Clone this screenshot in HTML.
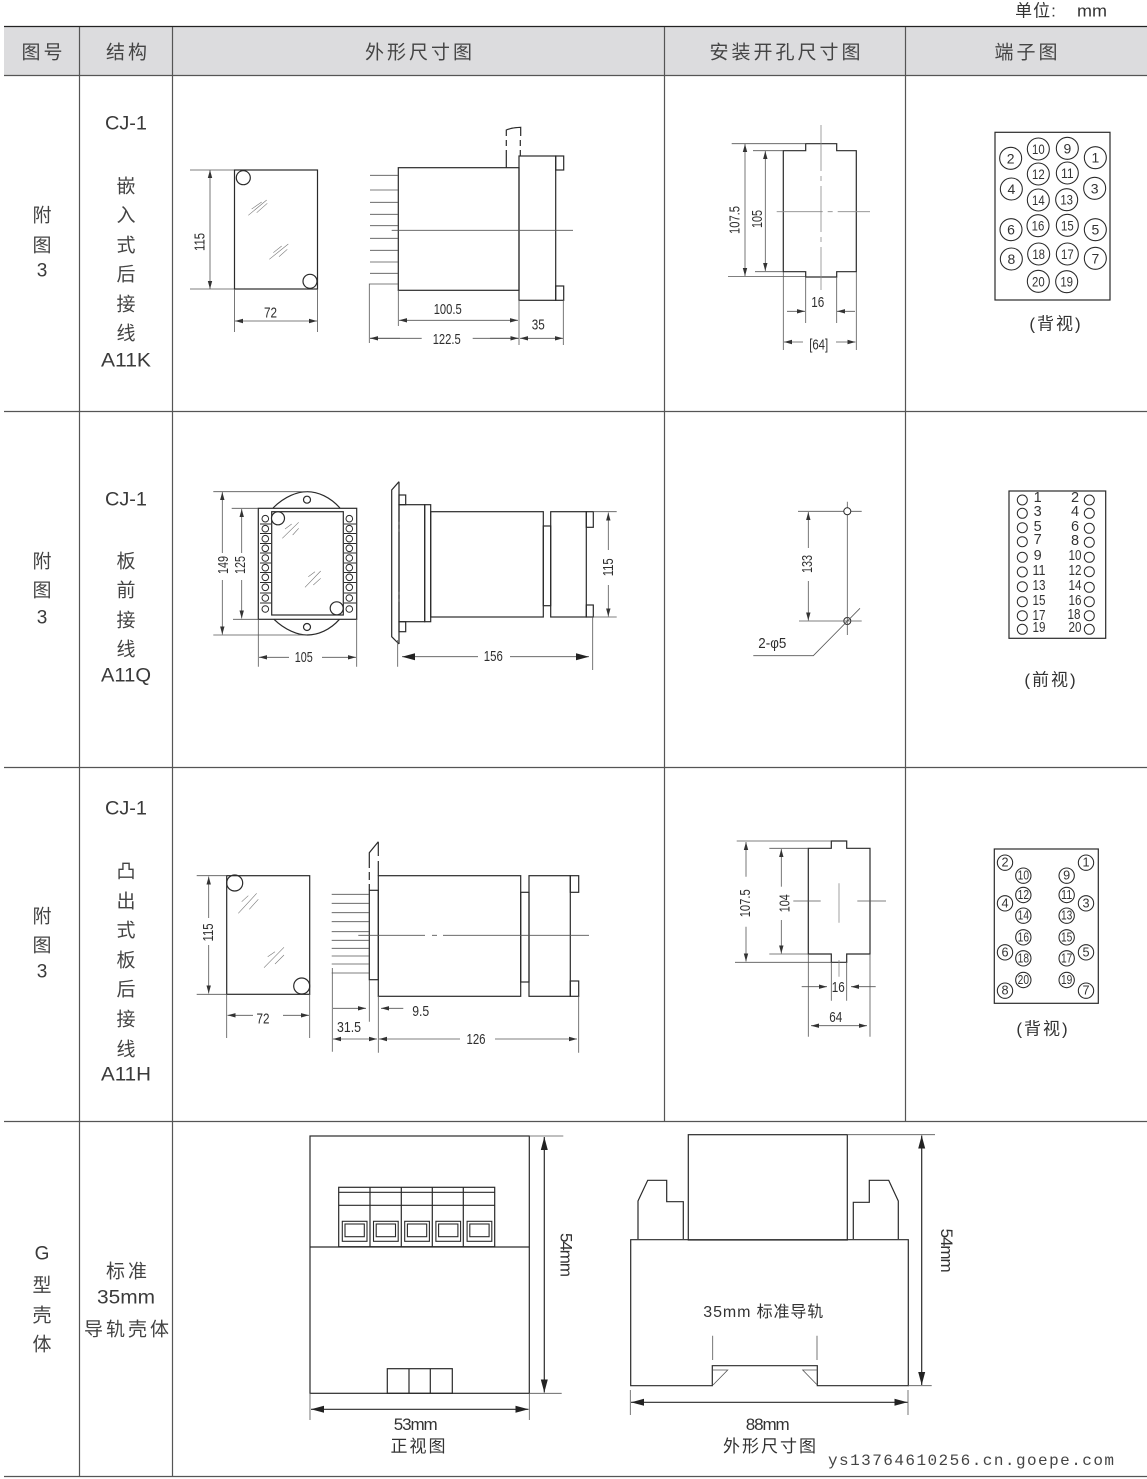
<!DOCTYPE html>
<html><head><meta charset="utf-8">
<style>
html,body{margin:0;padding:0;background:#fff}
svg{display:block}
.s{fill:none;stroke:#2a2a2a;stroke-width:1.2}
.d{fill:none;stroke:#555;stroke-width:.8}
.h{fill:none;stroke:#777;stroke-width:.6}
.c{fill:none;stroke:#8a8a8a;stroke-width:.8}
.a{marker-start:url(#m);marker-end:url(#m)}
.e{marker-end:url(#m)}
.A{marker-start:url(#M);marker-end:url(#M)}
text{dominant-baseline:central;text-anchor:middle}
.n{font:15px "Liberation Sans",sans-serif;fill:#2e2e2e}
.t{font:19px "Liberation Sans","Noto Sans CJK SC",sans-serif;fill:#3a3a3a}
.k{font:19px "Noto Sans CJK SC",sans-serif;font-weight:400;fill:#444}
.g{font:17px "Liberation Sans","Noto Sans CJK SC",sans-serif;fill:#333}
.tb{fill:none;stroke:#555;stroke-width:1.2}
</style></head><body>
<svg xmlns="http://www.w3.org/2000/svg" width="1147" height="1479" viewBox="0 0 1147 1479">
<defs>
<marker id="m" markerUnits="userSpaceOnUse" markerWidth="9" markerHeight="6" refX="8" refY="3" orient="auto-start-reverse"><path d="M0 .8L8 3L0 5.2z" fill="#333"/></marker>
<marker id="M" markerUnits="userSpaceOnUse" markerWidth="14" markerHeight="10" refX="13" refY="5" orient="auto-start-reverse"><path d="M0 1.5L13 5L0 8.5z" fill="#222"/></marker>
</defs>
<rect width="1147" height="1479" fill="#fff"/>

<!-- table -->
<rect x="4" y="27" width="1143" height="48" fill="#dcdcde"/>
<path d="M4 26.5H1147" stroke="#222" stroke-width="1.2" fill="none"/>
<path class="tb" d="M4 75.5H1147M4 411.5H1147M4 767.5H1147M4 1121.5H1147M4 1476.5H1147"/>
<path class="tb" d="M79.5 27V1476M172.5 27V1476M664.5 27V1121M905.5 27V1121"/>
<text class="g" x="1036" y="11" letter-spacing="1">单位:</text>
<text class="g" x="1092" y="11" textLength="30" lengthAdjust="spacingAndGlyphs">mm</text>
<text class="k" x="43.5" y="51" letter-spacing="3">图号</text>
<text class="k" x="128" y="51" letter-spacing="3">结构</text>
<text class="k" x="420" y="51" letter-spacing="3">外形尺寸图</text>
<text class="k" x="786.5" y="51" letter-spacing="3">安装开孔尺寸图</text>
<text class="k" x="1027.5" y="51" letter-spacing="3">端子图</text>

<!-- column text row 1 -->
<text class="k" x="42" y="214">附</text><text class="k" x="42" y="244">图</text><text class="t" x="42" y="271">3</text>
<text class="t" x="126" y="124" textLength="42" lengthAdjust="spacingAndGlyphs">CJ-1</text>
<text class="k" x="126" y="185">嵌</text><text class="k" x="126" y="214">入</text><text class="k" x="126" y="244">式</text><text class="k" x="126" y="273">后</text><text class="k" x="126" y="303">接</text><text class="k" x="126" y="332">线</text>
<text class="t" x="126" y="361" textLength="50" lengthAdjust="spacingAndGlyphs">A11K</text>
<!-- row 2 -->
<text class="k" x="42" y="560">附</text><text class="k" x="42" y="589">图</text><text class="t" x="42" y="618">3</text>
<text class="t" x="126" y="500" textLength="42" lengthAdjust="spacingAndGlyphs">CJ-1</text>
<text class="k" x="126" y="560">板</text><text class="k" x="126" y="589">前</text><text class="k" x="126" y="619">接</text><text class="k" x="126" y="648">线</text>
<text class="t" x="126" y="676" textLength="50" lengthAdjust="spacingAndGlyphs">A11Q</text>
<!-- row 3 -->
<text class="k" x="42" y="915">附</text><text class="k" x="42" y="944">图</text><text class="t" x="42" y="972">3</text>
<text class="t" x="126" y="809" textLength="42" lengthAdjust="spacingAndGlyphs">CJ-1</text>
<text class="k" x="126" y="870">凸</text><text class="k" x="126" y="900">出</text><text class="k" x="126" y="929">式</text><text class="k" x="126" y="959">板</text><text class="k" x="126" y="988">后</text><text class="k" x="126" y="1018">接</text><text class="k" x="126" y="1048">线</text>
<text class="t" x="126" y="1075" textLength="50" lengthAdjust="spacingAndGlyphs">A11H</text>
<!-- row 4 -->
<text class="t" x="42" y="1254">G</text><text class="k" x="42" y="1284">型</text><text class="k" x="42" y="1314">壳</text><text class="k" x="42" y="1343">体</text>
<text class="k" x="128" y="1270" letter-spacing="3">标准</text>
<text class="t" x="126" y="1298" textLength="58" lengthAdjust="spacingAndGlyphs">35mm</text>
<text class="k" x="128" y="1328" letter-spacing="3">导轨壳体</text>

<!-- D1 front -->
<rect class="s" x="234.5" y="170" width="83" height="119"/>
<circle class="s" cx="243.3" cy="177.7" r="7"/><circle class="s" cx="310" cy="281.3" r="7"/>
<path class="h" d="M248.3 215.3L266.7 200M251.7 209L261.7 202M256.7 212.7L267.3 203.3M269.3 259.3L288.3 244M273.3 252.7L281.7 246M279 256.7L287.3 249.3"/>
<path class="d" d="M190 170H234M190 289H234M234.5 289V332M317.5 289V332"/>
<path class="d a" d="M210 170V289"/><path class="d a" d="M235 321H317"/>
<rect x="194" y="232" width="12" height="20" fill="#fff"/>
<text class="n" x="200" y="242" textLength="18" lengthAdjust="spacingAndGlyphs" transform="rotate(-90 200 242)">115</text>
<text class="n" x="270.5" y="313" textLength="13" lengthAdjust="spacingAndGlyphs">72</text>
<!-- D1 side -->
<rect class="s" x="398.3" y="167.7" width="120.7" height="122.6"/>
<rect class="s" x="519" y="156" width="36.7" height="144.3"/>
<rect class="s" x="555.7" y="156" width="8" height="14"/><rect class="s" x="555.7" y="286" width="8" height="14.3"/>
<path class="d" d="M370 175.3H398M370 190H398M370 202.3H398M370 214.3H398M370 225.7H398M370 238.3H398M370 250.3H398M370 262H398M370 273.3H398M398 284H369.3V343M391.7 230.3H573"/>
<path class="s" d="M506.3 167.7V150M506.3 146V140M506.3 136V130Q512 127.5 520.7 127.3V136M520.3 140V146M520.3 150V156" stroke-width="1"/>
<path class="d" d="M398.3 290V326M519 300V345M563.3 300V345"/>
<path class="d a" d="M399 320.3H518"/>
<path class="d" d="M370 338.3H421.7M472.7 338.3H518"/>
<path class="d e" d="M400 338.3H370"/><path class="d e" d="M490 338.3H518.5"/>
<path class="d a" d="M520 338.3H563"/>
<text class="n" x="447.7" y="309.3" textLength="28" lengthAdjust="spacingAndGlyphs">100.5</text>
<text class="n" x="446.7" y="339.3" textLength="28" lengthAdjust="spacingAndGlyphs">122.5</text>
<text class="n" x="538.3" y="325" textLength="13" lengthAdjust="spacingAndGlyphs">35</text>

<!-- M1 -->
<path class="s" d="M783.3 150.7H805.7V143.7H836.7V150.7H856.3V271.7H836.7V277H805.7V271.7H783.3Z"/>
<path class="c" stroke-dasharray="46 5 5 5" d="M821 125V290M776.7 211.7H870"/>
<path class="d" d="M731.7 143.7H805M728 276.5H805M753 150.7H783M755 271.7H783M805.7 277V323M836.7 277V323M783.3 272V350M856.3 272V350"/>
<path class="d a" d="M745 144V276"/><path class="d a" d="M765.3 151V271"/>
<path class="d e" d="M787 311.3H805"/><path class="d e" d="M855 311.3H837"/>
<path class="d e" d="M803 342H784"/><path class="d e" d="M836 342H855.5"/>
<rect x="728" y="200" width="14" height="40" fill="#fff"/>
<rect x="751" y="205" width="12" height="28" fill="#fff"/>
<text class="n" x="735" y="220" textLength="28" lengthAdjust="spacingAndGlyphs" transform="rotate(-90 735 220)">107.5</text>
<text class="n" x="757.3" y="219" textLength="18" lengthAdjust="spacingAndGlyphs" transform="rotate(-90 757.3 219)">105</text>
<text class="n" x="817.7" y="302.3" textLength="13" lengthAdjust="spacingAndGlyphs">16</text>
<text class="n" x="818.7" y="345" textLength="19" lengthAdjust="spacingAndGlyphs">[64]</text>

<!-- T1 -->
<rect class="s" x="995" y="132.3" width="115" height="167.7"/>
<g transform="translate(985 125) scale(.33333)">
<g fill="none" stroke="#2a2a2a" stroke-width="3.2">
<circle cx="160" cy="72" r="33"/><circle cx="247" cy="70" r="33"/><circle cx="77" cy="100" r="33"/><circle cx="331" cy="98" r="33"/><circle cx="160" cy="147" r="33"/><circle cx="247" cy="144" r="33"/><circle cx="79" cy="192" r="33"/><circle cx="329" cy="190" r="33"/><circle cx="160" cy="225" r="33"/><circle cx="245" cy="224" r="33"/><circle cx="159" cy="302" r="33"/><circle cx="247" cy="301" r="33"/><circle cx="78" cy="314" r="33"/><circle cx="331" cy="314" r="33"/><circle cx="161" cy="387" r="33"/><circle cx="247" cy="387" r="33"/><circle cx="79" cy="402" r="33"/><circle cx="331" cy="400" r="33"/><circle cx="160" cy="469" r="33"/><circle cx="245" cy="470" r="33"/>
</g>
<g style="font:42px 'Liberation Sans',sans-serif" fill="#333">
<text x="160" y="72" textLength="38" lengthAdjust="spacingAndGlyphs">10</text><text x="247" y="70">9</text><text x="77" y="100">2</text><text x="331" y="98">1</text><text x="160" y="147" textLength="38" lengthAdjust="spacingAndGlyphs">12</text><text x="247" y="144" textLength="38" lengthAdjust="spacingAndGlyphs">11</text><text x="79" y="192">4</text><text x="329" y="190">3</text><text x="160" y="225" textLength="38" lengthAdjust="spacingAndGlyphs">14</text><text x="245" y="224" textLength="38" lengthAdjust="spacingAndGlyphs">13</text><text x="159" y="302" textLength="38" lengthAdjust="spacingAndGlyphs">16</text><text x="247" y="301" textLength="38" lengthAdjust="spacingAndGlyphs">15</text><text x="78" y="314">6</text><text x="331" y="314">5</text><text x="161" y="387" textLength="38" lengthAdjust="spacingAndGlyphs">18</text><text x="247" y="387" textLength="38" lengthAdjust="spacingAndGlyphs">17</text><text x="79" y="402">8</text><text x="331" y="400">7</text><text x="160" y="469" textLength="38" lengthAdjust="spacingAndGlyphs">20</text><text x="245" y="470" textLength="38" lengthAdjust="spacingAndGlyphs">19</text>
</g></g>
<text class="g" x="1056" y="324" letter-spacing="2">(背视)</text>

<!-- D2 front -->
<rect class="s" x="258.3" y="508.3" width="98.4" height="111"/>
<rect class="s" x="271.7" y="511.7" width="71.6" height="103.3"/>
<path class="s" d="M273 508C285 496 298 491.7 307 491.7C318 491.7 330 497 340 508M274 619.3C285 630 298 635 307 635C318 635 330 630 339.5 619.3"/>
<circle class="s" cx="307" cy="499.7" r="3.5"/><circle class="s" cx="307" cy="627" r="3.5"/>
<g fill="none" stroke="#2a2a2a" stroke-width="1">
<circle cx="265.3" cy="518.7" r="3.3"/><circle cx="265.3" cy="528.7" r="3.3"/><circle cx="265.3" cy="538.7" r="3.3"/><circle cx="265.3" cy="548.3" r="3.3"/><circle cx="265.3" cy="558" r="3.3"/><circle cx="265.3" cy="567.7" r="3.3"/><circle cx="265.3" cy="577.3" r="3.3"/><circle cx="265.3" cy="587.3" r="3.3"/><circle cx="265.3" cy="598" r="3.3"/><circle cx="265.3" cy="609" r="3.3"/>
<circle cx="349.3" cy="518.7" r="3.3"/><circle cx="349.3" cy="528.7" r="3.3"/><circle cx="349.3" cy="538.7" r="3.3"/><circle cx="349.3" cy="548.3" r="3.3"/><circle cx="349.3" cy="558" r="3.3"/><circle cx="349.3" cy="567.7" r="3.3"/><circle cx="349.3" cy="577.3" r="3.3"/><circle cx="349.3" cy="587.3" r="3.3"/><circle cx="349.3" cy="598" r="3.3"/><circle cx="349.3" cy="609" r="3.3"/>
<path d="M260 524H271M260 533.5H271M260 543.5H271M260 553H271M260 563H271M260 572.5H271M260 582.5H271M260 593H271M260 603H271M344 524H356M344 533.5H356M344 543.5H356M344 553H356M344 563H356M344 572.5H356M344 582.5H356M344 593H356M344 603H356"/>
</g>
<circle class="s" cx="278" cy="518.3" r="6.5" style="fill:#fff"/><circle class="s" cx="336.7" cy="608.3" r="6.5" style="fill:#fff"/>
<path class="h" d="M282.3 538.3L298.7 522.3M285 529L291.7 524M292.7 535L298.7 528.3M305 587.3L320.7 571M308.3 576.7L315 571.7M313.3 585L320.7 578.3"/>
<path class="d" d="M213.3 491.7H307M213.3 635H307M231.7 508.3H258M233 619.3H258M258.3 619V666.7M356.7 619V666.7"/>
<path class="d e" d="M222.3 553V492"/><path class="d e" d="M222.3 580V634.5"/>
<path class="d e" d="M241.7 553V509"/><path class="d e" d="M241.7 580V618.5"/>
<path class="d e" d="M289 657.3H259"/><path class="d e" d="M322 657.3H356"/>
<text class="n" x="223.3" y="565" textLength="18" lengthAdjust="spacingAndGlyphs" transform="rotate(-90 223.3 565)">149</text>
<text class="n" x="240.7" y="565" textLength="18" lengthAdjust="spacingAndGlyphs" transform="rotate(-90 240.7 565)">125</text>
<text class="n" x="303.7" y="657.3" textLength="18" lengthAdjust="spacingAndGlyphs">105</text>
<!-- D2 side -->
<path class="s" d="M399 481.7L391.7 490V636.7L399 644"/>
<path class="s" stroke-dasharray="40 3 4 3 60 3 4 3 200" d="M399 481.7V644"/>
<rect class="s" x="399" y="504.7" width="25.7" height="117"/>
<rect class="s" x="424.7" y="504.7" width="6" height="117"/>
<rect class="s" x="399" y="495" width="6.7" height="9.7"/><rect class="s" x="399" y="621.7" width="6.7" height="10"/>
<rect class="s" x="430.7" y="511.7" width="112.6" height="105.3"/>
<rect class="s" x="543.3" y="526" width="7.4" height="79.7"/>
<rect class="s" x="550.7" y="511.7" width="35.6" height="105.3"/>
<rect class="s" x="586.3" y="511.7" width="7" height="15.6"/><rect class="s" x="586.3" y="605" width="7" height="12"/>
<path class="d" d="M593 511.7H616.7M593 617H616.7M397.7 640V666.7M592.7 617V670"/>
<path class="d e" d="M608.3 550V512.5"/><path class="d e" d="M608.3 585V616.5"/>
<path class="d A" d="M402 656.7H478" style="marker-end:none"/><path class="d A" d="M510 656.7H589" style="marker-start:none"/>
<text class="n" x="608.3" y="567.3" textLength="18" lengthAdjust="spacingAndGlyphs" transform="rotate(-90 608.3 567.3)">115</text>
<text class="n" x="493.3" y="656.7" textLength="19" lengthAdjust="spacingAndGlyphs">156</text>

<!-- M2 -->
<path class="d" d="M847.3 501.7V635M798 511.3H861.7M799 621H861.7"/>
<circle cx="847.3" cy="511.3" r="3.5" fill="#fff" stroke="#2a2a2a"/>
<circle cx="847.3" cy="621" r="3.5" fill="#fff" stroke="#2a2a2a"/>
<path class="d" d="M843.5 621H851M847.3 617V625M753.3 655.7H813.3L860 608.3"/>
<path class="d e" d="M808.3 548V512"/><path class="d e" d="M808.3 581V620.5"/>
<text class="n" x="807.5" y="564" textLength="18" lengthAdjust="spacingAndGlyphs" transform="rotate(-90 807.5 564)">133</text>
<text class="n" x="772.3" y="643.3" textLength="28" lengthAdjust="spacingAndGlyphs">2-φ5</text>

<!-- T2 -->
<rect class="s" x="1009" y="491" width="96.7" height="147.3"/>
<g fill="none" stroke="#2a2a2a" stroke-width="1">
<circle cx="1022.3" cy="500" r="5"/><circle cx="1022.3" cy="513.3" r="5"/><circle cx="1022.3" cy="527.7" r="5"/><circle cx="1022.3" cy="541.7" r="5"/><circle cx="1022.3" cy="557.3" r="5"/><circle cx="1022.3" cy="572" r="5"/><circle cx="1022.3" cy="586.7" r="5"/><circle cx="1022.3" cy="601.7" r="5"/><circle cx="1022.3" cy="615.7" r="5"/><circle cx="1022.3" cy="629.3" r="5"/>
<circle cx="1089.3" cy="500" r="5"/><circle cx="1089.3" cy="513.3" r="5"/><circle cx="1089.3" cy="528.3" r="5"/><circle cx="1089.3" cy="542.3" r="5"/><circle cx="1089.3" cy="557.3" r="5"/><circle cx="1089.3" cy="571.7" r="5"/><circle cx="1089.3" cy="587.3" r="5"/><circle cx="1089.3" cy="601.7" r="5"/><circle cx="1089.3" cy="615.7" r="5"/><circle cx="1089.3" cy="629.3" r="5"/>
</g>
<g style="font:14.5px 'Liberation Sans',sans-serif" fill="#333">
<text x="1037.7" y="498">1</text><text x="1037.7" y="512">3</text><text x="1037.7" y="527">5</text><text x="1037.7" y="540">7</text><text x="1037.7" y="556">9</text><text x="1039" y="571" textLength="13" lengthAdjust="spacingAndGlyphs">11</text><text x="1039" y="586" textLength="13" lengthAdjust="spacingAndGlyphs">13</text><text x="1039" y="601" textLength="13" lengthAdjust="spacingAndGlyphs">15</text><text x="1039" y="616" textLength="13" lengthAdjust="spacingAndGlyphs">17</text><text x="1039" y="628" textLength="13" lengthAdjust="spacingAndGlyphs">19</text>
<text x="1075" y="498">2</text><text x="1075" y="512">4</text><text x="1075" y="527">6</text><text x="1075" y="541">8</text><text x="1075" y="556" textLength="13" lengthAdjust="spacingAndGlyphs">10</text><text x="1075" y="571" textLength="13" lengthAdjust="spacingAndGlyphs">12</text><text x="1075" y="586" textLength="13" lengthAdjust="spacingAndGlyphs">14</text><text x="1075" y="601" textLength="13" lengthAdjust="spacingAndGlyphs">16</text><text x="1074" y="615" textLength="13" lengthAdjust="spacingAndGlyphs">18</text><text x="1075" y="628" textLength="13" lengthAdjust="spacingAndGlyphs">20</text>
</g>
<text class="g" x="1051" y="680" letter-spacing="2">(前视)</text>

<!-- D3 front -->
<rect class="s" x="226.7" y="875.7" width="83" height="118.6"/>
<circle class="s" cx="234.7" cy="883" r="8"/><circle class="s" cx="301.7" cy="986" r="8"/>
<path class="h" d="M238.3 913.3L256.7 893.3M241.7 901.7L248.3 895.7M249.3 909.3L258.3 899.3M264 967.7L284 947.3M267.7 956.7L275 951.7M275 964L284 955"/>
<path class="d" d="M196.7 875.7H226M196.7 994.3H226M226.7 994V1038M309.7 994V1038"/>
<path class="d e" d="M208.7 918V876.5"/><path class="d e" d="M208.7 945V993.5"/>
<path class="d e" d="M253 1015.3H227.5"/><path class="d e" d="M283 1015.3H309"/>
<text class="n" x="208.5" y="932.5" textLength="18" lengthAdjust="spacingAndGlyphs" transform="rotate(-90 208.5 932.5)">115</text>
<text class="n" x="263" y="1019" textLength="13" lengthAdjust="spacingAndGlyphs">72</text>
<!-- D3 side -->
<path class="s" d="M378.3 841.7L369.3 852.7V868M369.3 872V880M369.3 884V890M378.3 841.7V856M378.3 861V875.7" stroke-width="1.1"/>
<rect class="s" x="369.3" y="890.3" width="9" height="89.4"/>
<rect class="s" x="378.3" y="875.7" width="142.4" height="120.6"/>
<rect class="s" x="520.7" y="892.3" width="8.3" height="89.7"/>
<rect class="s" x="529" y="875.7" width="41.3" height="120.6"/>
<rect class="s" x="570.3" y="875.7" width="8.4" height="16.6"/><rect class="s" x="570.3" y="981" width="8.4" height="15.3"/>
<path class="d" d="M331.7 894.3H369M331.7 903.3H369M331.7 912.7H369M331.7 921.7H369M331.7 931.7H369M331.7 940.3H369M331.7 948.3H369M331.7 956H369M331.7 964H369M331.7 973H369"/>
<path class="d" d="M358.3 935.3H425M432 935.3H437M443 935.3H589"/>
<path class="d" d="M332.3 968V1051.7M369.3 980V1021.7M378.3 996V1052.7M578.7 996V1052.7"/>
<path class="d e" d="M333 1008.3H366"/><path class="d e" d="M403.3 1008.3H381"/>
<path class="d a" d="M333 1039H377"/>
<path class="d e" d="M460 1039H379"/><path class="d e" d="M495 1039H577"/>
<text class="n" x="420.7" y="1011.7" textLength="17" lengthAdjust="spacingAndGlyphs">9.5</text>
<text class="n" x="349" y="1027.3" textLength="24" lengthAdjust="spacingAndGlyphs">31.5</text>
<text class="n" x="476" y="1039.3" textLength="19" lengthAdjust="spacingAndGlyphs">126</text>

<!-- M3 -->
<path class="s" d="M808.3 848.3H831.3V841H846.7V848.3H870V954H846.7V962.3H831.3V954H808.3Z"/>
<path class="d" d="M736.7 841H831M735 962.3H831M769.3 848.3H808M769.3 954H808M793.3 901H820.7M857.3 901H886M831.3 962V1000.7M846.7 962V1000.7M808.3 954V1036.7M870 954V1036.7"/>
<path class="c" d="M839 883.3V922.7M839 960V976.7"/>
<path class="d e" d="M746 876.7V842"/><path class="d e" d="M746 926.7V961.5"/>
<path class="d e" d="M781.3 886.7V849"/><path class="d e" d="M781.3 920V953.5"/>
<path class="d e" d="M801.7 986.7H827"/><path class="d e" d="M875.7 986.7H851"/>
<path class="d a" d="M811 1025.7H867"/>
<text class="n" x="745.7" y="903.3" textLength="28" lengthAdjust="spacingAndGlyphs" transform="rotate(-90 745.7 903.3)">107.5</text>
<text class="n" x="785" y="903.3" textLength="18" lengthAdjust="spacingAndGlyphs" transform="rotate(-90 785 903.3)">104</text>
<text class="n" x="838.3" y="987.7" textLength="13" lengthAdjust="spacingAndGlyphs">16</text>
<text class="n" x="835.7" y="1017.3" textLength="13" lengthAdjust="spacingAndGlyphs">64</text>

<!-- T3 -->
<rect class="s" x="994.3" y="849" width="104" height="154.3"/>
<g transform="translate(985 845) scale(.33333)">
<g fill="none" stroke="#2a2a2a" stroke-width="3.2">
<circle cx="60" cy="53" r="23"/><circle cx="303" cy="53" r="23"/><circle cx="115" cy="92" r="23"/><circle cx="245" cy="92" r="23"/><circle cx="115" cy="150" r="23"/><circle cx="245" cy="150" r="23"/><circle cx="60" cy="175" r="23"/><circle cx="303" cy="175" r="23"/><circle cx="115" cy="212" r="23"/><circle cx="245" cy="212" r="23"/><circle cx="115" cy="277" r="23"/><circle cx="245" cy="277" r="23"/><circle cx="60" cy="322" r="23"/><circle cx="303" cy="322" r="23"/><circle cx="115" cy="340" r="23"/><circle cx="245" cy="340" r="23"/><circle cx="115" cy="405" r="23"/><circle cx="245" cy="405" r="23"/><circle cx="60" cy="437" r="23"/><circle cx="303" cy="437" r="23"/>
</g>
<g style="font:38px 'Liberation Sans',sans-serif" fill="#333">
<text x="60" y="53">2</text><text x="303" y="53">1</text><text x="115" y="92" textLength="34" lengthAdjust="spacingAndGlyphs">10</text><text x="245" y="92">9</text><text x="115" y="150" textLength="34" lengthAdjust="spacingAndGlyphs">12</text><text x="245" y="150" textLength="34" lengthAdjust="spacingAndGlyphs">11</text><text x="60" y="175">4</text><text x="303" y="175">3</text><text x="115" y="212" textLength="34" lengthAdjust="spacingAndGlyphs">14</text><text x="245" y="212" textLength="34" lengthAdjust="spacingAndGlyphs">13</text><text x="115" y="277" textLength="34" lengthAdjust="spacingAndGlyphs">16</text><text x="245" y="277" textLength="34" lengthAdjust="spacingAndGlyphs">15</text><text x="60" y="322">6</text><text x="303" y="322">5</text><text x="115" y="340" textLength="34" lengthAdjust="spacingAndGlyphs">18</text><text x="245" y="340" textLength="34" lengthAdjust="spacingAndGlyphs">17</text><text x="115" y="405" textLength="34" lengthAdjust="spacingAndGlyphs">20</text><text x="245" y="405" textLength="34" lengthAdjust="spacingAndGlyphs">19</text><text x="60" y="437">8</text><text x="303" y="437">7</text>
</g></g>
<text class="g" x="1043" y="1029" letter-spacing="2">(背视)</text>

<!-- G front -->
<rect class="s" x="310" y="1136" width="219.3" height="257.3"/>
<path class="s" d="M310 1247H529.3"/>
<rect class="s" x="338.7" y="1187.3" width="156" height="59.4"/>
<path class="s" d="M370 1187.3V1246.7M401.3 1187.3V1246.7M432.3 1187.3V1246.7M463.3 1187.3V1246.7M338.7 1192.3H494.7M338.7 1205.3H494.7"/>
<g fill="none" stroke="#2a2a2a" stroke-width="1.1">
<rect x="342.3" y="1221.3" width="24.7" height="20"/><rect x="345" y="1224" width="19.3" height="12.7"/>
<rect x="373.5" y="1221.3" width="24.7" height="20"/><rect x="376.2" y="1224" width="19.3" height="12.7"/>
<rect x="404.7" y="1221.3" width="24.7" height="20"/><rect x="407.4" y="1224" width="19.3" height="12.7"/>
<rect x="435.9" y="1221.3" width="24.7" height="20"/><rect x="438.6" y="1224" width="19.3" height="12.7"/>
<rect x="467.1" y="1221.3" width="24.7" height="20"/><rect x="469.8" y="1224" width="19.3" height="12.7"/>
</g>
<rect class="s" x="387.3" y="1368.7" width="65" height="24.6"/>
<path class="s" d="M409 1368.7V1393.3M430.3 1368.7V1393.3"/>
<path class="d" d="M529 1136H563.3M529 1393.3H561.7M310 1393V1420M529.3 1393V1420"/>
<path class="s A" d="M544.3 1137V1392.5"/><path class="s A" d="M311 1409.3H528.5"/>
<text class="g" x="566" y="1255" textLength="44" transform="rotate(90 566 1255)">54mm</text>
<text class="g" x="415.7" y="1424.3" textLength="44">53mm</text>
<text class="g" x="419" y="1446.7" letter-spacing="2">正视图</text>

<!-- G side -->
<rect class="s" x="688.3" y="1134.7" width="159" height="105.3"/>
<path class="s" d="M630.7 1385.7V1239.7H908.3V1385.7H817.3V1365.7H712.3V1385.7Z"/>
<path class="s" d="M638 1239V1201L647.7 1180.3H666.7V1201.7H683.3V1239M853.3 1239V1202.3H869.3V1180.3H888.7L898.3 1201V1239"/>
<path class="d" d="M712.3 1370H727.7L713 1385M817.3 1370H802.7L817.3 1385M712.7 1335.7V1360M817 1335.7V1360M847 1134.7H935M908 1385.7H931.7M630.3 1390V1415M908 1390V1415"/>
<path class="s A" d="M921.7 1135.5V1385"/><path class="s A" d="M631 1402.3H907.5"/>
<text class="g" x="946.7" y="1250.7" textLength="44" transform="rotate(90 946.7 1250.7)">54mm</text>
<text class="g" x="763.3" y="1312.7" textLength="120" style="font-size:16px">35mm 标准导轨</text>
<text class="g" x="767.7" y="1424.7" textLength="44">88mm</text>
<text class="g" x="770.5" y="1446.7" letter-spacing="2">外形尺寸图</text>

<text x="971" y="1461" textLength="286" style="font:16px 'Liberation Mono',monospace" fill="#444">ys13764610256.cn.goepe.com</text>
</svg>
</body></html>
